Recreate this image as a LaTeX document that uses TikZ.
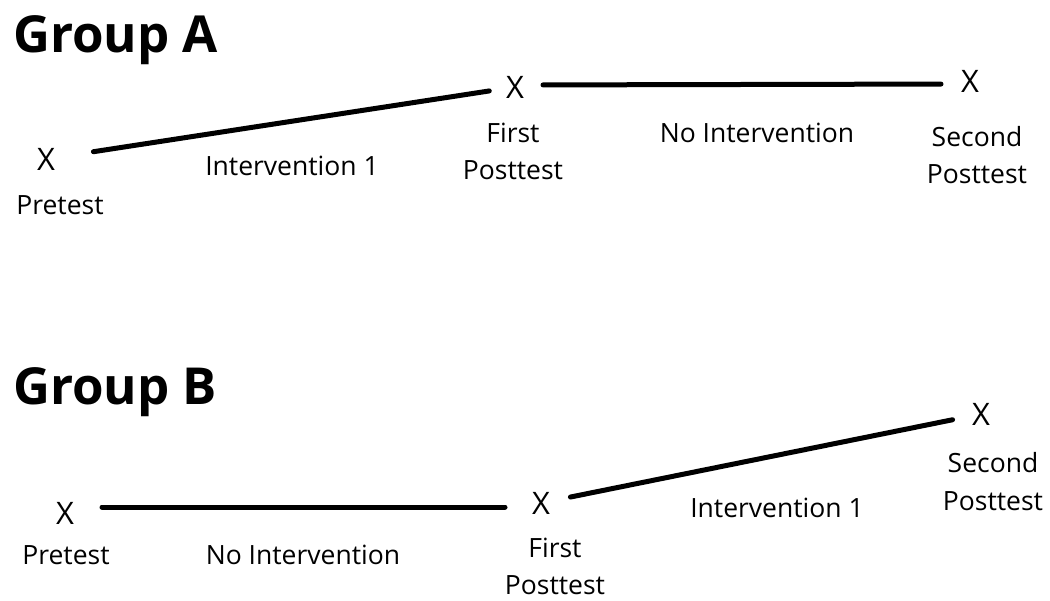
\documentclass[tikz,border=0pt]{standalone}
\usepackage{fontspec}
\setmainfont{Open Sans}
\usetikzlibrary{positioning}

\tikzset{
  grp/.style={anchor=base west, inner sep=0pt, font=\fontsize{51}{60}\selectfont\bfseries},
  obs/.style={inner sep=0pt, font=\fontsize{31}{36}\selectfont},
  lbl/.style={anchor=base, inner sep=0pt, align=center, font=\fontsize{26.5}{37}\selectfont},
  link/.style={line width=5pt, line cap=round},
}

\begin{document}
\begin{tikzpicture}[x=1pt, y=-1pt]
        \useasboundingbox (0,0) rectangle (1050,601);

        % Group A
        \node[grp] (grpA) at (13,53) {Group A};
        \node[obs] (a1) at (46,159) {X};
        \node[obs] (a2) at (515,87) {X};
        \node[obs] (a3) at (970,81) {X};
        \node[lbl] (a1lbl) at (60,215) {Pretest};
        \node[lbl] (a2lbl) at (513,180) {First\\Posttest};
        \node[lbl] (a3lbl) at (977,184) {Second\\Posttest};
        \node[lbl] (a12) at (292,176) {Intervention 1};
        \node[lbl] (a23) at (757,143) {No Intervention};
        \draw[link, shorten <=48pt, shorten >=26pt] (a1.center) -- (a2.center);
        \draw[link, shorten <=28pt, shorten >=29pt] ([yshift=2pt]a2.center) -- ([yshift=-3pt]a3.center);

        % Group B
        \node[grp] (grpB) at (13,405) {Group B};
        \node[obs] (b1) at (65,513) {X};
        \node[obs] (b2) at (541,503) {X};
        \node[obs] (b3) at (981,414) {X};
        \node[lbl] (b1lbl) at (66,564) {Pretest};
        \node[lbl] (b2lbl) at (555,594) {First\\Posttest};
        \node[lbl] (b3lbl) at (993,510) {Second\\Posttest};
        \node[lbl] (b12) at (303,564) {No Intervention};
        \node[lbl] (b23) at (777,517) {Intervention 1};
        \draw[link, shorten <=37pt, shorten >=36pt] ([yshift=6pt]b1.center) -- ([yshift=-4pt]b2.center);
        \draw[link, shorten <=30pt, shorten >=29pt] (b2.center) -- (b3.center);
\end{tikzpicture}
\end{document}
